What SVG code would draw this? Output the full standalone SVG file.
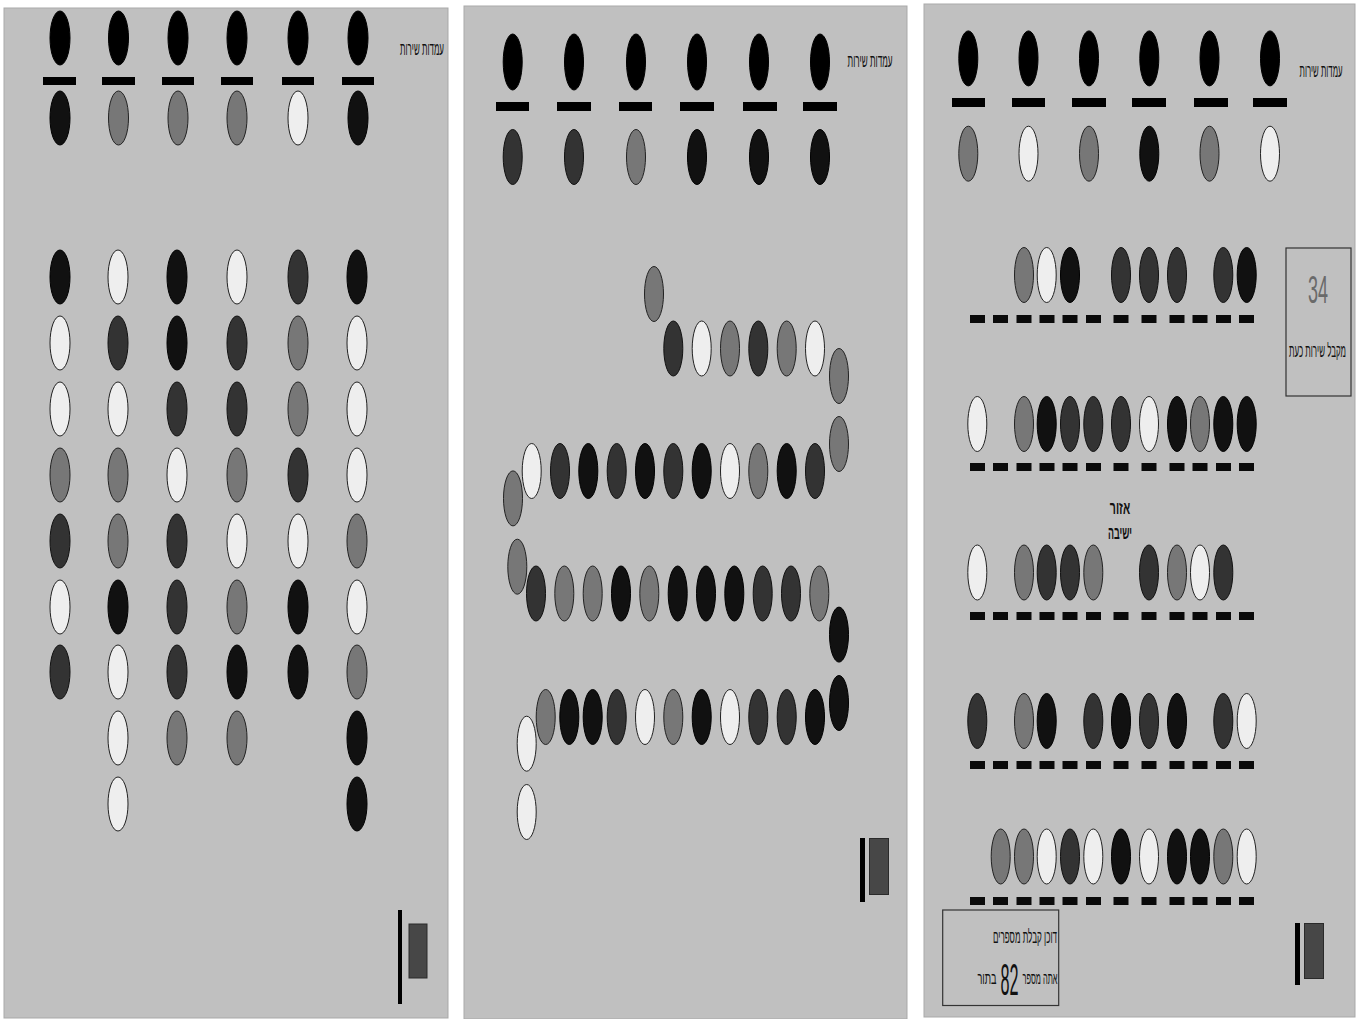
<svg xmlns="http://www.w3.org/2000/svg" width="1364" height="1019" viewBox="0 0 1364 1019">
<style>
.panel{fill:#c0c0c0;stroke:#a9a9a9;stroke-width:1}
.k{fill:#000;stroke:#000;stroke-width:1}
.d1{fill:#111;stroke:#000;stroke-width:1}
.d2{fill:#333;stroke:#111;stroke-width:1}
.m{fill:#777;stroke:#222;stroke-width:1}
.l{fill:#eee;stroke:#222;stroke-width:1}
.bar{fill:#000}
.dash{fill:#0a0a0a}
.vline{fill:#000}
.door{fill:#474747;stroke:#2a2a2a;stroke-width:1}
.lbl{font-family:"Liberation Sans","DejaVu Sans",sans-serif;fill:#111;text-anchor:middle}
.box{fill:none;stroke:#333;stroke-width:1.2}
</style>
<rect width="1364" height="1019" fill="#fff"/>
<g id="panels">
<rect class="panel" x="4" y="8" width="444" height="1010"/>
<rect class="panel" x="464" y="6" width="443" height="1013"/>
<rect class="panel" x="924" y="4" width="431" height="1013"/>
</g>
<g id="connectors"/>

<!-- Panel 1 -->
<g id="p1-stations">
<ellipse class="k" cx="60" cy="38" rx="10" ry="27"/>
<ellipse class="k" cx="118.5" cy="38" rx="10" ry="27"/>
<ellipse class="k" cx="178" cy="38" rx="10" ry="27"/>
<ellipse class="k" cx="237" cy="38" rx="10" ry="27"/>
<ellipse class="k" cx="298" cy="38" rx="10" ry="27"/>
<ellipse class="k" cx="358" cy="38" rx="10" ry="27"/>
<rect class="bar" x="43" y="77" width="33" height="8"/>
<rect class="bar" x="102" y="77" width="33" height="8"/>
<rect class="bar" x="162" y="77" width="32" height="8"/>
<rect class="bar" x="221" y="77" width="32" height="8"/>
<rect class="bar" x="282" y="77" width="32" height="8"/>
<rect class="bar" x="342" y="77" width="32" height="8"/>
<ellipse class="d1" cx="60" cy="118" rx="10" ry="27"/>
<ellipse class="m" cx="118.5" cy="118" rx="10" ry="27"/>
<ellipse class="m" cx="178" cy="118" rx="10" ry="27"/>
<ellipse class="m" cx="237" cy="118" rx="10" ry="27"/>
<ellipse class="l" cx="298" cy="118" rx="10" ry="27"/>
<ellipse class="d1" cx="358" cy="118" rx="10" ry="27"/>
<text class="lbl" transform="translate(422,55) scale(0.5,1)" font-size="18" textLength="88" lengthAdjust="spacingAndGlyphs">עמדות שירות</text>
</g>
<g id="p1-queues">
<ellipse class="d1" cx="60" cy="277" rx="10" ry="27"/>
<ellipse class="l" cx="60" cy="343" rx="10" ry="27"/>
<ellipse class="l" cx="60" cy="409" rx="10" ry="27"/>
<ellipse class="m" cx="60" cy="475" rx="10" ry="27"/>
<ellipse class="d2" cx="60" cy="541" rx="10" ry="27"/>
<ellipse class="l" cx="60" cy="607" rx="10" ry="27"/>
<ellipse class="d2" cx="60" cy="672" rx="10" ry="27"/>

<ellipse class="l" cx="118" cy="277" rx="10" ry="27"/>
<ellipse class="d2" cx="118" cy="343" rx="10" ry="27"/>
<ellipse class="l" cx="118" cy="409" rx="10" ry="27"/>
<ellipse class="m" cx="118" cy="475" rx="10" ry="27"/>
<ellipse class="m" cx="118" cy="541" rx="10" ry="27"/>
<ellipse class="d1" cx="118" cy="607" rx="10" ry="27"/>
<ellipse class="l" cx="118" cy="672" rx="10" ry="27"/>
<ellipse class="l" cx="118" cy="738" rx="10" ry="27"/>
<ellipse class="l" cx="118" cy="804" rx="10" ry="27"/>

<ellipse class="d1" cx="177" cy="277" rx="10" ry="27"/>
<ellipse class="d1" cx="177" cy="343" rx="10" ry="27"/>
<ellipse class="d2" cx="177" cy="409" rx="10" ry="27"/>
<ellipse class="l" cx="177" cy="475" rx="10" ry="27"/>
<ellipse class="d2" cx="177" cy="541" rx="10" ry="27"/>
<ellipse class="d2" cx="177" cy="607" rx="10" ry="27"/>
<ellipse class="d2" cx="177" cy="672" rx="10" ry="27"/>
<ellipse class="m" cx="177" cy="738" rx="10" ry="27"/>

<ellipse class="l" cx="237" cy="277" rx="10" ry="27"/>
<ellipse class="d2" cx="237" cy="343" rx="10" ry="27"/>
<ellipse class="d2" cx="237" cy="409" rx="10" ry="27"/>
<ellipse class="m" cx="237" cy="475" rx="10" ry="27"/>
<ellipse class="l" cx="237" cy="541" rx="10" ry="27"/>
<ellipse class="m" cx="237" cy="607" rx="10" ry="27"/>
<ellipse class="d1" cx="237" cy="672" rx="10" ry="27"/>
<ellipse class="m" cx="237" cy="738" rx="10" ry="27"/>

<ellipse class="d2" cx="298" cy="277" rx="10" ry="27"/>
<ellipse class="m" cx="298" cy="343" rx="10" ry="27"/>
<ellipse class="m" cx="298" cy="409" rx="10" ry="27"/>
<ellipse class="d2" cx="298" cy="475" rx="10" ry="27"/>
<ellipse class="l" cx="298" cy="541" rx="10" ry="27"/>
<ellipse class="d1" cx="298" cy="607" rx="10" ry="27"/>
<ellipse class="d1" cx="298" cy="672" rx="10" ry="27"/>

<ellipse class="d1" cx="357" cy="277" rx="10" ry="27"/>
<ellipse class="l" cx="357" cy="343" rx="10" ry="27"/>
<ellipse class="l" cx="357" cy="409" rx="10" ry="27"/>
<ellipse class="l" cx="357" cy="475" rx="10" ry="27"/>
<ellipse class="m" cx="357" cy="541" rx="10" ry="27"/>
<ellipse class="l" cx="357" cy="607" rx="10" ry="27"/>
<ellipse class="m" cx="357" cy="672" rx="10" ry="27"/>
<ellipse class="d1" cx="357" cy="738" rx="10" ry="27"/>
<ellipse class="d1" cx="357" cy="804" rx="10" ry="27"/>
</g>
<g id="p1-door">
<rect class="vline" x="398" y="910" width="4" height="94"/>
<rect class="door" x="409" y="924" width="18" height="54"/>
</g>

<!-- Panel 2 -->
<g id="p2-stations">
<ellipse class="k" cx="512.7" cy="62" rx="9.5" ry="28"/>
<ellipse class="k" cx="574" cy="62" rx="9.5" ry="28"/>
<ellipse class="k" cx="636" cy="62" rx="9.5" ry="28"/>
<ellipse class="k" cx="697" cy="62" rx="9.5" ry="28"/>
<ellipse class="k" cx="759" cy="62" rx="9.5" ry="28"/>
<ellipse class="k" cx="820" cy="62" rx="9.5" ry="28"/>
<rect class="bar" x="496" y="102" width="33" height="9"/>
<rect class="bar" x="557" y="102" width="34" height="9"/>
<rect class="bar" x="619" y="102" width="33" height="9"/>
<rect class="bar" x="680" y="102" width="34" height="9"/>
<rect class="bar" x="743" y="102" width="34" height="9"/>
<rect class="bar" x="803" y="102" width="34" height="9"/>
<ellipse class="d2" cx="512.7" cy="157" rx="9.5" ry="27.5"/>
<ellipse class="d2" cx="574" cy="157" rx="9.5" ry="27.5"/>
<ellipse class="m" cx="636" cy="157" rx="9.5" ry="27.5"/>
<ellipse class="d1" cx="697" cy="157" rx="9.5" ry="27.5"/>
<ellipse class="d1" cx="759" cy="157" rx="9.5" ry="27.5"/>
<ellipse class="d1" cx="820" cy="157" rx="9.5" ry="27.5"/>
<text class="lbl" transform="translate(870,67) scale(0.5,1)" font-size="18" textLength="90" lengthAdjust="spacingAndGlyphs">עמדות שירות</text>
</g>
<g id="p2-queue">
<ellipse class="m" cx="654" cy="294" rx="9.5" ry="27.5"/>
<ellipse class="d2" cx="673.3" cy="348.5" rx="9.5" ry="27.5"/>
<ellipse class="l" cx="701.7" cy="348.5" rx="9.5" ry="27.5"/>
<ellipse class="m" cx="730" cy="348.5" rx="9.5" ry="27.5"/>
<ellipse class="d2" cx="758.3" cy="348.5" rx="9.5" ry="27.5"/>
<ellipse class="m" cx="786.7" cy="348.5" rx="9.5" ry="27.5"/>
<ellipse class="l" cx="815" cy="348.5" rx="9.5" ry="27.5"/>
<ellipse class="m" cx="839" cy="376" rx="9.5" ry="27.5"/>
<ellipse class="m" cx="839" cy="444" rx="9.5" ry="27.5"/>

<ellipse class="l" cx="531.7" cy="471" rx="9.5" ry="27.5"/>
<ellipse class="d2" cx="560" cy="471" rx="9.5" ry="27.5"/>
<ellipse class="d1" cx="588.3" cy="471" rx="9.5" ry="27.5"/>
<ellipse class="d2" cx="616.7" cy="471" rx="9.5" ry="27.5"/>
<ellipse class="d1" cx="645" cy="471" rx="9.5" ry="27.5"/>
<ellipse class="d2" cx="673.3" cy="471" rx="9.5" ry="27.5"/>
<ellipse class="d1" cx="701.7" cy="471" rx="9.5" ry="27.5"/>
<ellipse class="l" cx="730" cy="471" rx="9.5" ry="27.5"/>
<ellipse class="m" cx="758.3" cy="471" rx="9.5" ry="27.5"/>
<ellipse class="d1" cx="786.7" cy="471" rx="9.5" ry="27.5"/>
<ellipse class="d2" cx="815" cy="471" rx="9.5" ry="27.5"/>
<ellipse class="m" cx="513" cy="498.4" rx="9.5" ry="27.5"/>
<ellipse class="m" cx="517.3" cy="566.7" rx="9.5" ry="27.5"/>

<ellipse class="d2" cx="536" cy="593.5" rx="9.5" ry="27.5"/>
<ellipse class="m" cx="564.3" cy="593.5" rx="9.5" ry="27.5"/>
<ellipse class="m" cx="592.7" cy="593.5" rx="9.5" ry="27.5"/>
<ellipse class="d1" cx="621" cy="593.5" rx="9.5" ry="27.5"/>
<ellipse class="m" cx="649.3" cy="593.5" rx="9.5" ry="27.5"/>
<ellipse class="d1" cx="677.7" cy="593.5" rx="9.5" ry="27.5"/>
<ellipse class="d1" cx="706" cy="593.5" rx="9.5" ry="27.5"/>
<ellipse class="d1" cx="734.3" cy="593.5" rx="9.5" ry="27.5"/>
<ellipse class="d2" cx="762.7" cy="593.5" rx="9.5" ry="27.5"/>
<ellipse class="d2" cx="791" cy="593.5" rx="9.5" ry="27.5"/>
<ellipse class="m" cx="819.3" cy="593.5" rx="9.5" ry="27.5"/>
<ellipse class="d1" cx="839" cy="634.6" rx="9.5" ry="27.5"/>
<ellipse class="d1" cx="839" cy="703" rx="9.5" ry="27.5"/>

<ellipse class="m" cx="545.7" cy="717" rx="9.5" ry="27.5"/>
<ellipse class="d1" cx="569.3" cy="717" rx="9.5" ry="27.5"/>
<ellipse class="d1" cx="592.7" cy="717" rx="9.5" ry="27.5"/>
<ellipse class="d2" cx="616.7" cy="717" rx="9.5" ry="27.5"/>
<ellipse class="l" cx="645" cy="717" rx="9.5" ry="27.5"/>
<ellipse class="m" cx="673.3" cy="717" rx="9.5" ry="27.5"/>
<ellipse class="d1" cx="701.7" cy="717" rx="9.5" ry="27.5"/>
<ellipse class="l" cx="730" cy="717" rx="9.5" ry="27.5"/>
<ellipse class="d2" cx="758.3" cy="717" rx="9.5" ry="27.5"/>
<ellipse class="d2" cx="786.7" cy="717" rx="9.5" ry="27.5"/>
<ellipse class="d1" cx="815" cy="717" rx="9.5" ry="27.5"/>
<ellipse class="l" cx="526.7" cy="743.7" rx="9.5" ry="27.5"/>
<ellipse class="l" cx="526.7" cy="812" rx="9.5" ry="27.5"/>
</g>
<g id="p2-door">
<rect class="vline" x="860" y="838" width="5" height="64"/>
<rect class="door" x="869.5" y="838.5" width="19" height="56"/>
</g>

<!-- Panel 3 -->
<g id="p3-stations">
<ellipse class="k" cx="968.3" cy="58.4" rx="9.5" ry="27.5"/>
<ellipse class="k" cx="1028.5" cy="58.4" rx="9.5" ry="27.5"/>
<ellipse class="k" cx="1089" cy="58.4" rx="9.5" ry="27.5"/>
<ellipse class="k" cx="1149.3" cy="58.4" rx="9.5" ry="27.5"/>
<ellipse class="k" cx="1209.5" cy="58.4" rx="9.5" ry="27.5"/>
<ellipse class="k" cx="1270" cy="58.4" rx="9.5" ry="27.5"/>
<rect class="bar" x="952" y="98" width="33" height="9"/>
<rect class="bar" x="1012" y="98" width="33" height="9"/>
<rect class="bar" x="1072" y="98" width="34" height="9"/>
<rect class="bar" x="1132" y="98" width="34" height="9"/>
<rect class="bar" x="1194" y="98" width="34" height="9"/>
<rect class="bar" x="1253" y="98" width="34" height="9"/>
<ellipse class="m" cx="968.3" cy="153.7" rx="9.5" ry="27.5"/>
<ellipse class="l" cx="1028.5" cy="153.7" rx="9.5" ry="27.5"/>
<ellipse class="m" cx="1089" cy="153.7" rx="9.5" ry="27.5"/>
<ellipse class="d1" cx="1149.3" cy="153.7" rx="9.5" ry="27.5"/>
<ellipse class="m" cx="1209.5" cy="153.7" rx="9.5" ry="27.5"/>
<ellipse class="l" cx="1270" cy="153.7" rx="9.5" ry="27.5"/>
<text class="lbl" transform="translate(1321,77) scale(0.5,1)" font-size="18" textLength="86" lengthAdjust="spacingAndGlyphs">עמדות שירות</text>
</g>
<g id="p3-seats">
<!-- row 1 -->
<ellipse class="m" cx="1024" cy="275" rx="9.5" ry="27.5"/>
<ellipse class="l" cx="1046.7" cy="275" rx="9.5" ry="27.5"/>
<ellipse class="d1" cx="1070" cy="275" rx="9.5" ry="27.5"/>
<ellipse class="d2" cx="1121" cy="275" rx="9.5" ry="27.5"/>
<ellipse class="d2" cx="1149" cy="275" rx="9.5" ry="27.5"/>
<ellipse class="d2" cx="1177" cy="275" rx="9.5" ry="27.5"/>
<ellipse class="d2" cx="1223.3" cy="275" rx="9.5" ry="27.5"/>
<ellipse class="d1" cx="1246.7" cy="275" rx="9.5" ry="27.5"/>
<!-- row 2 -->
<ellipse class="l" cx="977.3" cy="424" rx="9.5" ry="27.5"/>
<ellipse class="m" cx="1024" cy="424" rx="9.5" ry="27.5"/>
<ellipse class="d1" cx="1046.7" cy="424" rx="9.5" ry="27.5"/>
<ellipse class="d2" cx="1070" cy="424" rx="9.5" ry="27.5"/>
<ellipse class="d2" cx="1093.3" cy="424" rx="9.5" ry="27.5"/>
<ellipse class="d2" cx="1121" cy="424" rx="9.5" ry="27.5"/>
<ellipse class="l" cx="1149" cy="424" rx="9.5" ry="27.5"/>
<ellipse class="d1" cx="1177" cy="424" rx="9.5" ry="27.5"/>
<ellipse class="m" cx="1200" cy="424" rx="9.5" ry="27.5"/>
<ellipse class="d1" cx="1223.3" cy="424" rx="9.5" ry="27.5"/>
<ellipse class="d1" cx="1246.7" cy="424" rx="9.5" ry="27.5"/>
<!-- row 3 -->
<ellipse class="l" cx="977.3" cy="572.5" rx="9.5" ry="27.5"/>
<ellipse class="m" cx="1024" cy="572.5" rx="9.5" ry="27.5"/>
<ellipse class="d2" cx="1046.7" cy="572.5" rx="9.5" ry="27.5"/>
<ellipse class="d2" cx="1070" cy="572.5" rx="9.5" ry="27.5"/>
<ellipse class="m" cx="1093.3" cy="572.5" rx="9.5" ry="27.5"/>
<ellipse class="d2" cx="1149" cy="572.5" rx="9.5" ry="27.5"/>
<ellipse class="m" cx="1177" cy="572.5" rx="9.5" ry="27.5"/>
<ellipse class="l" cx="1200" cy="572.5" rx="9.5" ry="27.5"/>
<ellipse class="d2" cx="1223.3" cy="572.5" rx="9.5" ry="27.5"/>
<!-- row 4 -->
<ellipse class="d2" cx="977.3" cy="721" rx="9.5" ry="27.5"/>
<ellipse class="m" cx="1024" cy="721" rx="9.5" ry="27.5"/>
<ellipse class="d1" cx="1046.7" cy="721" rx="9.5" ry="27.5"/>
<ellipse class="d2" cx="1093.3" cy="721" rx="9.5" ry="27.5"/>
<ellipse class="d1" cx="1121" cy="721" rx="9.5" ry="27.5"/>
<ellipse class="d2" cx="1149" cy="721" rx="9.5" ry="27.5"/>
<ellipse class="d1" cx="1177" cy="721" rx="9.5" ry="27.5"/>
<ellipse class="d2" cx="1223.3" cy="721" rx="9.5" ry="27.5"/>
<ellipse class="l" cx="1246.7" cy="721" rx="9.5" ry="27.5"/>
<!-- row 5 -->
<ellipse class="m" cx="1000.7" cy="856.5" rx="9.5" ry="27.5"/>
<ellipse class="m" cx="1024" cy="856.5" rx="9.5" ry="27.5"/>
<ellipse class="l" cx="1046.7" cy="856.5" rx="9.5" ry="27.5"/>
<ellipse class="d2" cx="1070" cy="856.5" rx="9.5" ry="27.5"/>
<ellipse class="l" cx="1093.3" cy="856.5" rx="9.5" ry="27.5"/>
<ellipse class="d1" cx="1121" cy="856.5" rx="9.5" ry="27.5"/>
<ellipse class="l" cx="1149" cy="856.5" rx="9.5" ry="27.5"/>
<ellipse class="d1" cx="1177" cy="856.5" rx="9.5" ry="27.5"/>
<ellipse class="d1" cx="1200" cy="856.5" rx="9.5" ry="27.5"/>
<ellipse class="m" cx="1223.3" cy="856.5" rx="9.5" ry="27.5"/>
<ellipse class="l" cx="1246.7" cy="856.5" rx="9.5" ry="27.5"/>
</g>
<g id="p3-dashes">
<g id="dashrow">
<rect class="dash" x="970" y="315" width="15" height="8"/>
<rect class="dash" x="993" y="315" width="15" height="8"/>
<rect class="dash" x="1016.5" y="315" width="15" height="8"/>
<rect class="dash" x="1039.5" y="315" width="15" height="8"/>
<rect class="dash" x="1062.5" y="315" width="15" height="8"/>
<rect class="dash" x="1086" y="315" width="15" height="8"/>
<rect class="dash" x="1113.5" y="315" width="15" height="8"/>
<rect class="dash" x="1141.5" y="315" width="15" height="8"/>
<rect class="dash" x="1169.5" y="315" width="15" height="8"/>
<rect class="dash" x="1192.5" y="315" width="15" height="8"/>
<rect class="dash" x="1216" y="315" width="15" height="8"/>
<rect class="dash" x="1239" y="315" width="15" height="8"/>
</g>
<use href="#dashrow" y="148"/>
<use href="#dashrow" y="297"/>
<use href="#dashrow" y="446"/>
<use href="#dashrow" y="582"/>
</g>
<g id="p3-seating-label">
<text class="lbl" transform="translate(1120,514) scale(0.6,1)" font-size="18" font-weight="bold" textLength="34" lengthAdjust="spacingAndGlyphs">אזור</text>
<text class="lbl" transform="translate(1120,539) scale(0.6,1)" font-size="18" font-weight="bold" textLength="40" lengthAdjust="spacingAndGlyphs">ישיבה</text>
</g>
<g id="p3-current">
<rect class="box" x="1286" y="248" width="65" height="148"/>
<text class="lbl" transform="translate(1318,303) scale(0.5,1)" font-size="38" style="fill:#6a6a6a" textLength="40" lengthAdjust="spacingAndGlyphs">34</text>
<text class="lbl" transform="translate(1317.5,357) scale(0.5,1)" font-size="18" textLength="114" lengthAdjust="spacingAndGlyphs">מקבל שירות כעת</text>
</g>
<g id="p3-dispenser">
<rect class="box" x="942.7" y="910" width="116" height="95.5"/>
<text class="lbl" transform="translate(1025,943) scale(0.5,1)" font-size="18" textLength="128" lengthAdjust="spacingAndGlyphs">דוכן קבלת מספרים</text>
<text class="lbl" transform="translate(1040,984) scale(0.5,1)" font-size="17" textLength="70" lengthAdjust="spacingAndGlyphs">אתה מספר</text>
<text class="lbl" transform="translate(1009.5,995) scale(0.4,1)" font-size="44" textLength="45" lengthAdjust="spacingAndGlyphs">82</text>
<text class="lbl" transform="translate(987,984) scale(0.5,1)" font-size="17" textLength="38" lengthAdjust="spacingAndGlyphs">בתור</text>
</g>
<g id="p3-door">
<rect class="vline" x="1295" y="923" width="5" height="62"/>
<rect class="door" x="1304.5" y="923.5" width="19" height="55"/>
</g>
</svg>
